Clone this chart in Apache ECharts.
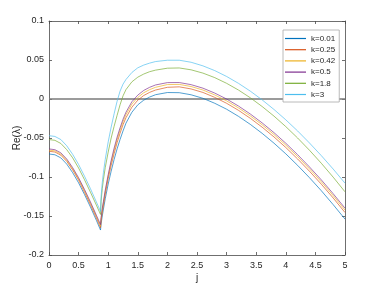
<!DOCTYPE html>
<html><head><meta charset="utf-8">
<script src="https://cdn.jsdelivr.net/npm/echarts/dist/echarts.min.js"></script>
<style>html,body{margin:0;padding:0;background:#fff}#c{width:382px;height:286px}</style>
</head><body><div id="c"></div>
<script>
const jValues = [0, 0.1, 0.2, 0.3, 0.4, 0.5, 0.6, 0.7, 0.8,
  0.87, 0.88, 0.9, 0.92, 0.95, 1.0, 1.05, 1.1, 1.15, 1.2, 1.25, 1.3, 1.4, 1.5, 1.6, 1.7, 1.8, 2.0,
  2.2, 2.4, 2.6, 2.8, 3.0, 3.2, 3.4, 3.6, 3.8, 4.0, 4.2, 4.4, 4.6, 4.8, 5.0];
const kLabels = ['k=0.01', 'k=0.25', 'k=0.42', 'k=0.5', 'k=1.8', 'k=3'];
const reK001 = [-0.0705,-0.0715,-0.0755,-0.0835,-0.0945,-0.1075,-0.1225,-0.1385,-0.1555,
  -0.168,-0.160,-0.150,-0.141,-0.128,-0.109,-0.0925,-0.0775,-0.064,-0.052,-0.041,-0.031,-0.017,-0.0075,-0.0015,0.0025,0.0055,0.0083,
  0.0081,0.0054,0.0009,-0.0055,-0.0131,-0.0222,-0.0325,-0.0440,-0.0566,-0.0703,-0.0851,-0.1009,-0.1176,-0.1354,-0.154];
const reK025 = [-0.067,-0.068,-0.072,-0.080,-0.091,-0.104,-0.1195,-0.1355,-0.1525,
  -0.165,-0.156,-0.145,-0.136,-0.122,-0.102,-0.085,-0.070,-0.056,-0.044,-0.033,-0.024,-0.0105,-0.0015,0.0045,0.0085,0.0115,0.015,
  0.0156,0.0129,0.0084,0.0021,-0.0055,-0.0145,-0.0247,-0.0361,-0.0486,-0.0622,-0.0769,-0.0926,-0.1092,-0.1269,-0.1455];
const reK042 = [-0.0655,-0.0665,-0.0705,-0.0785,-0.0895,-0.1025,-0.1175,-0.1335,-0.1505,
  -0.163,-0.154,-0.142,-0.133,-0.119,-0.099,-0.081,-0.066,-0.052,-0.040,-0.029,-0.020,-0.0065,0.002,0.008,0.012,0.015,0.0185,
  0.0187,0.0160,0.0115,0.0052,-0.0024,-0.0114,-0.0216,-0.0330,-0.0455,-0.0591,-0.0738,-0.0895,-0.1061,-0.1238,-0.1424];
const reK05 = [-0.064,-0.065,-0.069,-0.077,-0.088,-0.101,-0.116,-0.132,-0.149,
  -0.161,-0.152,-0.140,-0.131,-0.117,-0.097,-0.079,-0.063,-0.049,-0.037,-0.026,-0.017,-0.0035,0.005,0.011,0.015,0.018,0.021,
  0.0211,0.0184,0.0139,0.0076,0.0,-0.0090,-0.0192,-0.0306,-0.0431,-0.0567,-0.0714,-0.0871,-0.1037,-0.1214,-0.140];
const reK18 = [-0.052,-0.053,-0.057,-0.065,-0.0755,-0.0885,-0.1035,-0.1195,-0.136,
  -0.148,-0.131,-0.115,-0.103,-0.088,-0.068,-0.050,-0.035,-0.021,-0.0075,0.004,0.012,0.022,0.028,0.032,0.035,0.037,0.0395,
  0.0398,0.0374,0.0332,0.0274,0.0201,0.0115,0.0016,-0.0096,-0.0219,-0.0354,-0.0500,-0.0657,-0.0824,-0.1002,-0.119];
const reK3 = [-0.047,-0.048,-0.052,-0.060,-0.071,-0.084,-0.099,-0.115,-0.132,
  -0.144,-0.125,-0.107,-0.094,-0.0775,-0.055,-0.036,-0.019,-0.003,0.010,0.019,0.025,0.034,0.040,0.0435,0.046,0.048,0.0497,
  0.0497,0.0471,0.0425,0.0364,0.0289,0.0201,0.0101,-0.0011,-0.0134,-0.0267,-0.0410,-0.0564,-0.0726,-0.0898,-0.1079];
const zeroLineX = [0, 5];
const zeroLineY = [0, 0];
const xTickLabels = ['0','0.5','1','1.5','2','2.5','3','3.5','4','4.5','5'];
const yTickLabels = ['-0.2','-0.15','-0.1','-0.05','0','0.05','0.1'];

const allSeries = [reK001, reK025, reK042, reK05, reK18, reK3];
const colors = ['#0072BD', '#D95319', '#EDB120', '#7E2F8E', '#77AC30', '#4DBEEE'];
const FONT = 'Liberation Sans';
const axisCol = '#4a4a4a';

function xLab(v){ const i = Math.round(v / 0.5); return xTickLabels[i] !== undefined ? xTickLabels[i] : ''; }
function yLab(v){ const i = Math.round((v + 0.2) / 0.05); return yTickLabels[i] !== undefined ? yTickLabels[i] : ''; }

const baseX = {
  type: 'value', min: 0, max: 5, interval: 0.5,
  axisLine: { show: true, onZero: false, lineStyle: { color: axisCol, width: 0.8 } },
  axisTick: { show: true, inside: true, length: 3, lineStyle: { color: axisCol, width: 0.8 } },
  splitLine: { show: false }
};
const baseY = {
  type: 'value', min: -0.2, max: 0.1, interval: 0.05,
  axisLine: { show: true, onZero: false, lineStyle: { color: axisCol, width: 0.8 } },
  axisTick: { show: true, inside: true, length: 3, lineStyle: { color: axisCol, width: 0.8 } },
  splitLine: { show: false }
};

const series = allSeries.map((arr, i) => ({
  name: kLabels[i], type: 'line', xAxisIndex: 0, yAxisIndex: 0,
  data: jValues.map((j, n) => [j, arr[n]]),
  symbol: 'none', smooth: false,
  lineStyle: { color: colors[i], width: 0.8, opacity: 0.85 }, itemStyle: { color: colors[i] },
  z: 3
}));
series.push({
  name: 'zero', type: 'line', xAxisIndex: 0, yAxisIndex: 0,
  data: zeroLineX.map((x, n) => [x, zeroLineY[n]]),
  symbol: 'none', lineStyle: { color: '#7a7a7a', width: 1.4 }, z: 2, silent: true
});

const chart = echarts.init(document.getElementById('c'), null, { renderer: 'canvas' });
chart.setOption({
  animation: false,
  backgroundColor: '#fff',
  grid: { left: 49, right: 37, top: 21, bottom: 31, containLabel: false, outerBoundsMode: 'none' },
  xAxis: [
    Object.assign({}, baseX, { position: 'bottom', name: 'j', nameLocation: 'middle', nameGap: 18, nameMoveOverlap: false,
      nameTextStyle: { fontFamily: FONT, fontSize: 10, color: '#262626' },
      axisLabel: { show: true, margin: 6, fontFamily: FONT, fontSize: 9, color: '#262626', formatter: xLab } }),
    Object.assign({}, baseX, { position: 'top', axisLabel: { show: false } })
  ],
  yAxis: [
    Object.assign({}, baseY, { position: 'left', name: 'Re(λ)', nameLocation: 'middle', nameGap: 27, nameMoveOverlap: false,
      nameTextStyle: { fontFamily: FONT, fontSize: 10, color: '#262626' },
      axisLabel: { show: true, margin: 5, fontFamily: FONT, fontSize: 9, color: '#262626', formatter: yLab } }),
    Object.assign({}, baseY, { position: 'right', axisLabel: { show: false } })
  ],
  legend: {
    data: kLabels, orient: 'vertical', left: 283, top: 30,
    icon: 'rect', itemWidth: 21, itemHeight: 1.2, itemGap: 2.2,
    padding: [4, 4, 3, 2],
    borderColor: '#a8a8a8', borderWidth: 0.8, backgroundColor: '#fff',
    textStyle: { fontFamily: FONT, fontSize: 8, color: '#262626', lineHeight: 9 }
  },
  series: series
});
</script>
</body></html>
